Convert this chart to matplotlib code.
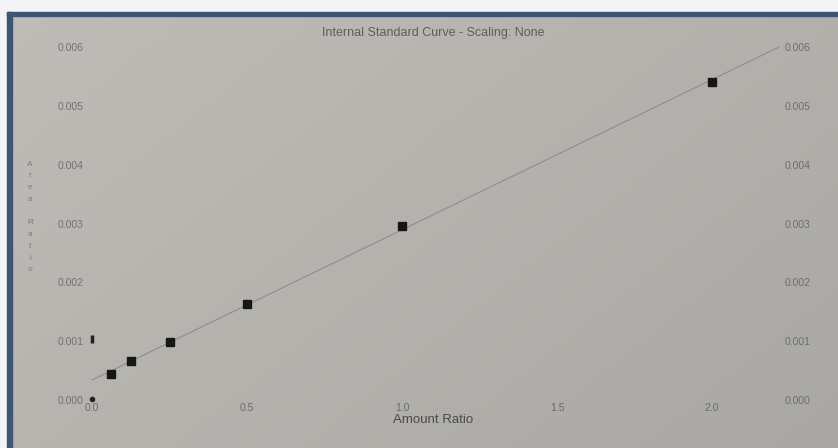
import numpy as np
import matplotlib.pyplot as plt
from matplotlib.patches import Rectangle

# calibration standards (amount ratio vs area ratio)
amount_ratio = [0.0625, 0.125, 0.25, 0.5, 1.0, 2.0]
area_ratio = [0.00044, 0.00066, 0.00099, 0.00163, 0.00296, 0.00541]

# blank / origin readings printed on the axis
blank_x = [0.0, 0.0]
blank_y = [0.00104, 0.00002]

x_ticks = [0.0, 0.5, 1.0, 1.5, 2.0]
y_ticks = [0.000, 0.001, 0.002, 0.003, 0.004, 0.005, 0.006]

plt.rcParams['font.family'] = ['Liberation Sans', 'DejaVu Sans']

W, H = 838, 448
fig = plt.figure(figsize=(W / 100, H / 100), dpi=100)

# paper background, slightly darker towards lower right
bg = fig.add_axes([0, 0, 1, 1])
gx, gy = np.meshgrid(np.linspace(0, 1, 200), np.linspace(0, 1, 100))
shade = 0.6 * gx + 0.4 * gy
top_col = np.array([192, 189, 184]) / 255
bot_col = np.array([170, 168, 164]) / 255
img = top_col[None, None, :] * (1 - shade[..., None]) + bot_col[None, None, :] * shade[..., None]
bg.imshow(img, extent=[0, 1, 0, 1], aspect='auto', origin='upper')
bg.axis('off')

# frame of the print
bg.add_patch(Rectangle((0, 1 - 12 / H), 1, 12 / H, color='#f3f4f6', transform=bg.transAxes))
bg.add_patch(Rectangle((0, 0), 7 / W, 1, color='#f3f4f6', transform=bg.transAxes))
bg.add_patch(Rectangle((7 / W, 0), 4.5 / W, 1 - 12 / H, color='#3e5574', transform=bg.transAxes))
bg.add_patch(Rectangle((7 / W, 1 - 16.5 / H), 1, 4.5 / H, color='#3e5574', transform=bg.transAxes))

ax = fig.add_axes([92 / W, 48 / H, 682 / W, 353 / H])
ax.patch.set_alpha(0)
ax.set_xlim(0, 2.2)
ax.set_ylim(0, 0.006)

# least-squares calibration line, drawn up to the top of the scale
slope, intercept = np.polyfit(amount_ratio, area_ratio, 1)
x_end = (0.006 - intercept) / slope
xs = np.array([0.0, x_end])
ax.plot(xs, slope * xs + intercept, color='#8a8884', lw=0.7, clip_on=False)

ax.plot(amount_ratio, area_ratio, 's', color='#161616', ms=6.4, clip_on=False)
ax.plot(blank_x[:1], blank_y[:1], '|', color='#222222', ms=6, mew=2.5, clip_on=False)
ax.plot(blank_x[1:], blank_y[1:], 'o', color='#222222', ms=3, clip_on=False)

for s in ax.spines.values():
    s.set_visible(False)

ax.set_xticks(x_ticks)
ax.set_xticklabels([f'{v:.1f}' for v in x_ticks])
ax.set_yticks(y_ticks)
ax.set_yticklabels([f'{v:.3f}' for v in y_ticks])
ax.tick_params(axis='x', length=0, pad=2.5, labelsize=7.5, labelcolor='#6a6a6a')
ax.tick_params(axis='y', length=0, pad=6, labelsize=7.5, labelcolor='#727272')

ax2 = ax.twinx()
ax2.set_ylim(ax.get_ylim())
ax2.set_yticks(y_ticks)
ax2.set_yticklabels([f'{v:.3f}' for v in y_ticks])
ax2.tick_params(axis='y', length=0, pad=8, labelsize=7.5, labelcolor='#6e6e6e')
for s in ax2.spines.values():
    s.set_visible(False)

ax.set_xlabel('Amount Ratio', fontsize=9.5, color='#4a4a4a', labelpad=0.5)
ax.set_title('Internal Standard Curve - Scaling: None', fontsize=9,
             color='#5e5e5e', pad=8)

# vertical axis name printed as stacked letters
fig.text(30 / W, 1 - 217 / H, '\n'.join('Area Ratio'), fontsize=6,
         color='#7a7a7a', ha='center', va='center', linespacing=1.95)

fig.savefig('out.png', dpi=100)
